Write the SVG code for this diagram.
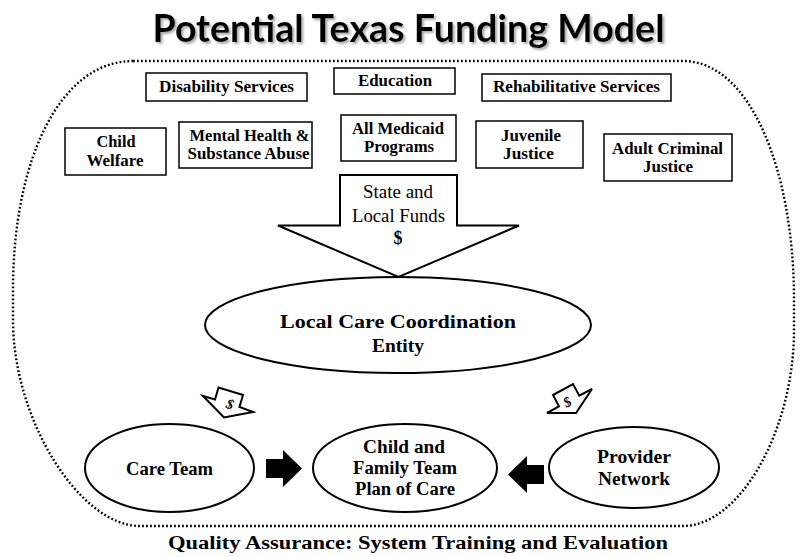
<svg xmlns="http://www.w3.org/2000/svg" width="801" height="557" viewBox="0 0 801 557">
<defs>
<filter id="shadow" x="-5%" y="-20%" width="110%" height="150%">
<feDropShadow dx="2" dy="2" stdDeviation="0.8" flood-color="#888" flood-opacity="0.7"/>
</filter>
</defs>
<style>
.box{fill:#fff;stroke:#000;stroke-width:1.5}
.ell{fill:#fff;stroke:#000;stroke-width:2}
.lbl{font-family:"Liberation Serif",serif;font-weight:bold;font-size:16.5px;text-anchor:middle;fill:#000}
.big{font-family:"Liberation Serif",serif;font-weight:bold;font-size:18px;text-anchor:middle;fill:#000}
.reg{font-family:"Liberation Serif",serif;font-size:18px;text-anchor:middle;fill:#000}
.title{font-family:Lato,"Open Sans",sans-serif;font-weight:bold;font-size:38px;text-anchor:middle}
.dollar{font-family:"Liberation Serif",serif;font-style:italic;font-weight:bold;font-size:14px;text-anchor:middle;fill:#000}
</style>
<rect width="801" height="557" fill="#fff"/>
<g id="title">
<text class="title" x="408.5" y="42" textLength="512" lengthAdjust="spacingAndGlyphs" fill="#000" filter="url(#shadow)">Potential Texas Funding Model</text>
</g>
<g id="boundary">
<path d="M133,61 H683 C750,61 794,170 794,300 V330 C794,430 740,526 683,526 H140 C80,526 13,420 13,320 V290 C13,160 60,61 133,61 Z" fill="none" stroke="#000" stroke-width="2.4" stroke-dasharray="1.8 2.2"/>
</g>
<g id="disability">
<rect class="box" x="146" y="73" width="161" height="28"/>
<text class="lbl" x="226.5" y="92" textLength="135" lengthAdjust="spacingAndGlyphs">Disability Services</text>
</g>
<g id="education">
<rect class="box" x="334" y="68" width="121" height="26"/>
<text class="lbl" x="395" y="86" textLength="74" lengthAdjust="spacingAndGlyphs">Education</text>
</g>
<g id="rehab">
<rect class="box" x="482" y="74" width="189" height="27"/>
<text class="lbl" x="576.5" y="92" textLength="167" lengthAdjust="spacingAndGlyphs">Rehabilitative Services</text>
</g>
<g id="child-welfare">
<rect class="box" x="65" y="128" width="101" height="47"/>
<text class="lbl" x="116" y="147" textLength="39" lengthAdjust="spacingAndGlyphs">Child</text>
<text class="lbl" x="115" y="166" textLength="57" lengthAdjust="spacingAndGlyphs">Welfare</text>
</g>
<g id="mental-health">
<rect class="box" x="179" y="122" width="133" height="46"/>
<text class="lbl" x="249.5" y="141" textLength="120" lengthAdjust="spacingAndGlyphs">Mental Health &amp;</text>
<text class="lbl" x="248.5" y="159" textLength="122" lengthAdjust="spacingAndGlyphs">Substance Abuse</text>
</g>
<g id="medicaid">
<rect class="box" x="341" y="115" width="115" height="46"/>
<text class="lbl" x="398" y="134" textLength="92" lengthAdjust="spacingAndGlyphs">All Medicaid</text>
<text class="lbl" x="399" y="152" textLength="70" lengthAdjust="spacingAndGlyphs">Programs</text>
</g>
<g id="juvenile">
<rect class="box" x="476" y="121" width="107" height="47"/>
<text class="lbl" x="531" y="141" textLength="60" lengthAdjust="spacingAndGlyphs">Juvenile</text>
<text class="lbl" x="528.5" y="159" textLength="51" lengthAdjust="spacingAndGlyphs">Justice</text>
</g>
<g id="adult">
<rect class="box" x="604" y="134" width="128" height="47"/>
<text class="lbl" x="667.5" y="154" textLength="111" lengthAdjust="spacingAndGlyphs">Adult Criminal</text>
<text class="lbl" x="668" y="172" textLength="50" lengthAdjust="spacingAndGlyphs">Justice</text>
</g>
<g id="connectors">
<g id="funds-arrow">
<polygon points="340,175 457,175 457,225.5 519,225.5 398.5,277 278,225.5 340,225.5" fill="#fff" stroke="#000" stroke-width="2"/>
<text class="reg" x="398" y="198" textLength="70" lengthAdjust="spacingAndGlyphs">State and</text>
<text class="reg" x="398.5" y="222" textLength="93" lengthAdjust="spacingAndGlyphs">Local Funds</text>
<text class="reg" x="398" y="244" font-size="13" font-weight="bold">$</text>
</g>
<g id="dollar-left">
<polygon points="203,396 215,399.5 218.5,387.5 243,395 239.5,407 253,412 224,417.5" fill="#fff" stroke="#000" stroke-width="2"/>
<text class="dollar" transform="translate(228.5,408.5) rotate(18)">$</text>
</g>
<g id="dollar-right">
<polygon points="547,413 559,406.4 553,395 573,384 579.3,395.7 592,389 576,413" fill="#fff" stroke="#000" stroke-width="2"/>
<text class="dollar" transform="translate(569.5,406) rotate(-29)">$</text>
</g>
<polygon id="arrow-right" points="266,459 283,459 283,450 302,468.5 283,487 283,478 266,478" fill="#000"/>
<polygon id="arrow-left" points="544,465 527,465 527,456 508,474.5 527,493 527,484 544,484" fill="#000"/>
</g>
<g id="lcce">
<ellipse class="ell" cx="398" cy="325" rx="193" ry="48"/>
<text class="big" x="398" y="328" font-size="20" textLength="236" lengthAdjust="spacingAndGlyphs">Local Care Coordination</text>
<text class="big" x="398" y="352" font-size="20" textLength="52" lengthAdjust="spacingAndGlyphs">Entity</text>
</g>
<g id="care-team">
<ellipse class="ell" cx="169.5" cy="468" rx="84.5" ry="44"/>
<text class="big" x="169.5" y="475" textLength="87" lengthAdjust="spacingAndGlyphs">Care Team</text>
</g>
<g id="plan-of-care">
<ellipse class="ell" cx="405" cy="468" rx="92" ry="44"/>
<text class="big" x="404" y="453" textLength="82" lengthAdjust="spacingAndGlyphs">Child and</text>
<text class="big" x="405" y="474" textLength="104" lengthAdjust="spacingAndGlyphs">Family Team</text>
<text class="big" x="405" y="495" textLength="100" lengthAdjust="spacingAndGlyphs">Plan of Care</text>
</g>
<g id="provider">
<ellipse class="ell" cx="634" cy="467.5" rx="85" ry="40.5"/>
<text class="big" x="634" y="463" textLength="74" lengthAdjust="spacingAndGlyphs">Provider</text>
<text class="big" x="634" y="485" textLength="72" lengthAdjust="spacingAndGlyphs">Network</text>
</g>
<g id="quality">
<text class="big" x="418" y="549" font-size="20" textLength="500" lengthAdjust="spacingAndGlyphs">Quality Assurance: System Training and Evaluation</text>
</g>
</svg>
